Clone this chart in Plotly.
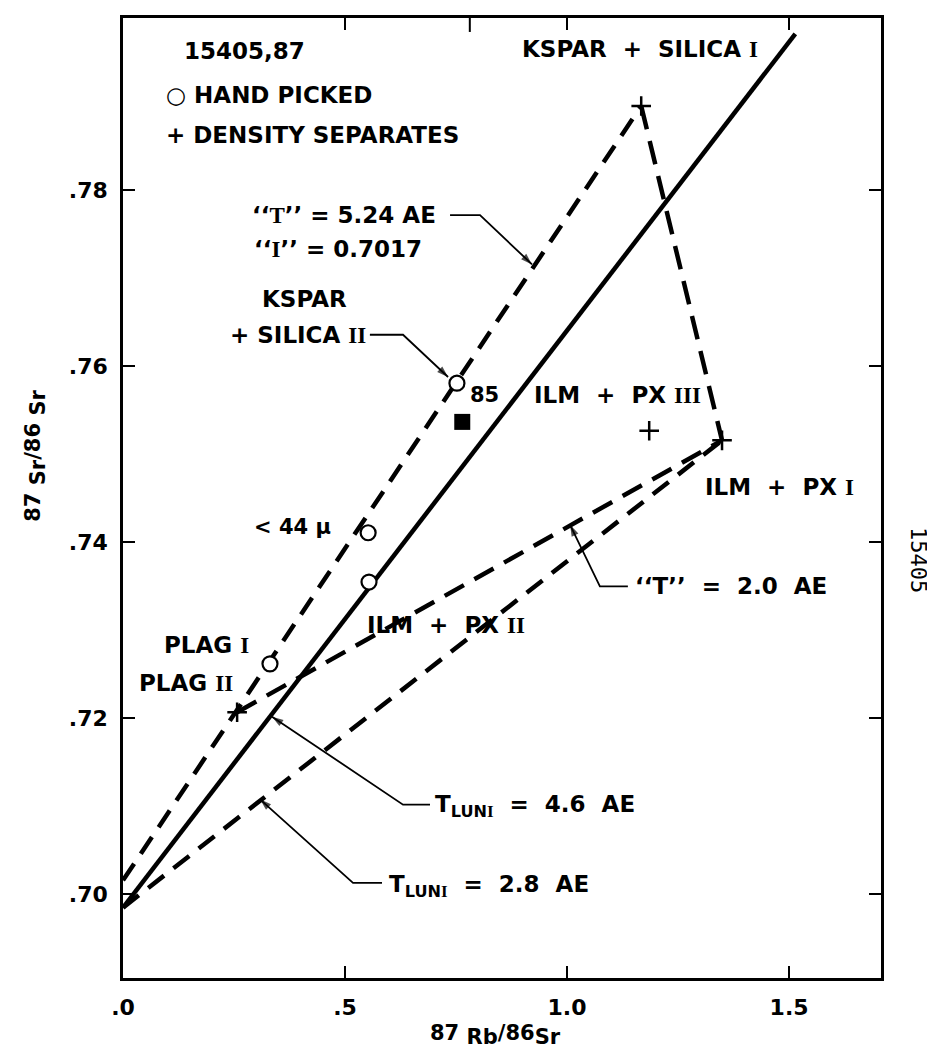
import plotly.graph_objects as go

# ---- data ----
hand_picked_x = [0.331, 0.552, 0.554, 0.752]
hand_picked_y = [0.7262, 0.7411, 0.7355, 0.7581]

density_x = [0.257, 1.167, 1.185, 1.349]
density_y = [0.7207, 0.7896, 0.7527, 0.7516]

sample85_x = [0.764]
sample85_y = [0.7537]

# reference isochrons / tie lines (end points)
iso_46_x = [0.0, 1.514]
iso_46_y = [0.6985, 0.7978]
iso_524_x = [0.0, 1.167]
iso_524_y = [0.7016, 0.7896]
tie_x = [1.167, 1.349]
tie_y = [0.7896, 0.7516]
iso_20_x = [0.257, 1.349]
iso_20_y = [0.7207, 0.7516]
iso_28_x = [0.0, 1.349]
iso_28_y = [0.6985, 0.7516]

x_ticks = [0.0, 0.5, 1.0, 1.5]
x_ticktext = [".0", ".5", "1.0", "1.5"]
y_ticks = [0.70, 0.72, 0.74, 0.76, 0.78, 0.80]
y_ticktext = [".70", ".72", ".74", ".76", ".78", ".80"]

FONT = "DejaVu Sans"
SERIF = "Liberation Serif"
FS = 23


def rom(s, size=FS):
    return ('<span style="font-family:%s;font-weight:bold;font-size:%dpx">%s</span>'
            % (SERIF, size, s))


def big(s, size):
    return '<span style="font-size:%dpx">%s</span>' % (size, s)


fig = go.Figure()

for xs, ys, d in [(iso_524_x, iso_524_y, "20px,12px"), (tie_x, tie_y, "24px,12px"),
                  (iso_20_x, iso_20_y, "22px,12px"), (iso_28_x, iso_28_y, "20px,12px")]:
    fig.add_trace(go.Scatter(x=xs, y=ys, mode="lines",
                             line=dict(color="black", width=4.5, dash=d),
                             hoverinfo="skip", showlegend=False))

fig.add_trace(go.Scatter(x=iso_46_x, y=iso_46_y, mode="lines",
                         line=dict(color="black", width=4.5),
                         hoverinfo="skip", showlegend=False))

fig.add_trace(go.Scatter(x=hand_picked_x, y=hand_picked_y, mode="markers",
                         marker=dict(symbol="circle", size=15, color="white",
                                     line=dict(color="black", width=2.2)),
                         showlegend=False, name="HAND PICKED"))
fig.add_trace(go.Scatter(x=density_x, y=density_y, mode="markers",
                         marker=dict(symbol="cross-thin", size=14,
                                     line=dict(color="black", width=2.5)),
                         showlegend=False, name="DENSITY SEPARATES"))
fig.add_trace(go.Scatter(x=sample85_x, y=sample85_y, mode="markers",
                         marker=dict(symbol="square", size=16, color="black"),
                         showlegend=False, name="85"))

ann = []


def txt(x, y, s, size=FS):
    ann.append(dict(x=x, y=y, xref="x", yref="y", text=s, showarrow=False,
                    xanchor="left", yanchor="middle",
                    font=dict(family=FONT, size=size, color="black", weight="bold")))


def leader(xs, ys):
    # leader line ending with an arrowhead
    n = len(xs)
    fig.add_trace(go.Scatter(x=xs, y=ys, mode="lines+markers",
                             line=dict(color="black", width=1.8),
                             marker=dict(symbol="arrow", angleref="previous",
                                         size=[0] * (n - 1) + [12], color="black",
                                         line=dict(width=0)),
                             hoverinfo="skip", showlegend=False))


txt(0.133, 0.7959, "15405,87")
txt(0.093, 0.7908, "○ HAND PICKED")
txt(0.093, 0.7863, "+ DENSITY SEPARATES")
txt(0.894, 0.7961, "KSPAR  +  SILICA " + rom("I"))

txt(0.286, 0.7772, "‘‘" + rom("T") + "’’ = 5.24 AE")
leader([0.7365, 0.804, 0.921], [0.7772, 0.7772, 0.7716])
txt(0.290, 0.7733, "‘‘" + rom("I") + "’’ = 0.7017")

txt(0.3086, 0.7677, "KSPAR")
txt(0.2365, 0.7636, "+ SILICA " + rom("II"))
leader([0.556, 0.6306, 0.732], [0.7636, 0.7636, 0.7588])

txt(0.777, 0.7568, "85", size=21)
txt(0.921, 0.7568, "ILM  +  PX " + rom("III"))
txt(1.306, 0.7463, "ILM  +  PX " + rom("I"))

txt(1.1486, 0.7350, "‘‘T’’  =  2.0  AE")
leader([1.137, 1.074, 1.0068], [0.7350, 0.7350, 0.7420])

txt(0.545, 0.7306, "ILM  +  PX " + rom("II"))
txt(0.2905, 0.7418, "< 44 μ", size=21)
txt(0.0878, 0.7283, "PLAG " + rom("I"))
txt(0.0315, 0.7240, "PLAG " + rom("II"))

txt(0.698, 0.7100, "T<sub>LUN" + rom("I", 17) + "</sub>  =  4.6  AE")
leader([0.6914, 0.6306, 0.3356], [0.7102, 0.7102, 0.7202])

txt(0.5946, 0.7010, "T<sub>LUN" + rom("I", 17) + "</sub>  =  2.8  AE")
leader([0.5833, 0.518, 0.3086], [0.7013, 0.7013, 0.7108])

# axis titles and side label
TS = 21
ann.append(dict(x=-0.116, y=0.544, xref="paper", yref="paper", showarrow=False,
                xanchor="center", yanchor="middle",
                text="87 <sub>" + big("Sr", TS) + "</sub>/86 <sub>" + big("Sr", TS) + "</sub>",
                textangle=-90,
                font=dict(family=FONT, size=TS, color="black", weight="bold")))
ann.append(dict(x=0.492, y=-0.059, xref="paper", yref="paper", showarrow=False,
                xanchor="center", yanchor="middle",
                text="87 <sub>" + big("Rb", TS) + "</sub>/86<sub>" + big("Sr", TS) + "</sub>",
                font=dict(family=FONT, size=TS, color="black", weight="bold")))
ann.append(dict(x=1.0495, y=0.436, xref="paper", yref="paper", showarrow=False,
                xanchor="center", yanchor="middle",
                text="15405", textangle=90,
                font=dict(family="DejaVu Sans Mono", size=22, color="black")))

# stray extra tick on the top frame of the original drawing
shapes = [dict(type="line", xref="x", yref="paper", x0=0.781, x1=0.781,
               y0=1.0, y1=1.0 - 14 / 963, line=dict(color="black", width=2))]

axis_common = dict(showgrid=False, zeroline=False, showline=True, linecolor="black",
                   linewidth=2.5, mirror="ticks", ticks="inside", ticklen=12,
                   tickwidth=2, tickcolor="black",
                   tickfont=dict(family=FONT, size=22, color="black", weight="bold"))

fig.update_xaxes(range=[0, 1.707], tickvals=x_ticks, ticktext=x_ticktext,
                 ticklabelstandoff=8, **axis_common)
fig.update_yaxes(range=[0.6905, 0.7996], tickvals=y_ticks, ticktext=y_ticktext,
                 ticklabelstandoff=8, **axis_common)

# page body adds an 8px offset; margins compensate so the plot area lands at
# x 123..881, y 15..978 of the window
fig.update_layout(width=927, height=1047,
                  margin=dict(l=115, r=54, t=7, b=77),
                  plot_bgcolor="white", paper_bgcolor="white",
                  annotations=ann, shapes=shapes, showlegend=False)

fig.write_html("out.html")
